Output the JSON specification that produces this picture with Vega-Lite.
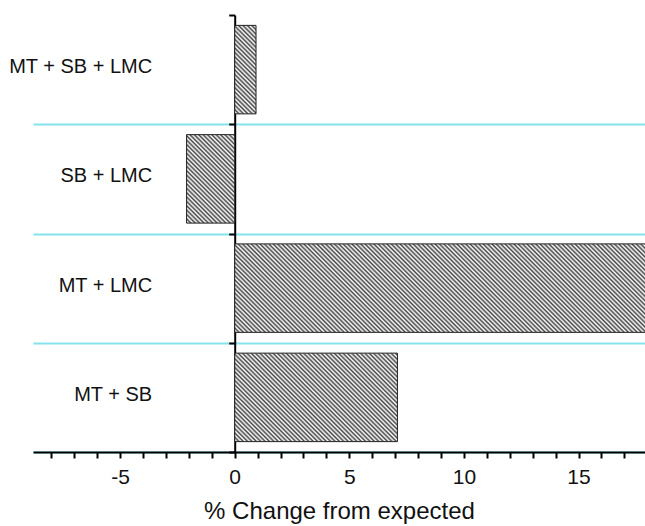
{
"$schema":"https://vega.github.io/schema/vega-lite/v6.json",
"width":612,"height":437,
"autosize":{"type":"none"},
"padding":{"left":33,"top":15,"right":0,"bottom":74},
"background":"white",
"config":{"view":{"stroke":null},"font":"Liberation Sans","axis":{"grid":false}},
"data":{"values":[
{"group":"MT + SB + LMC","change":0.93},
{"group":"SB + LMC","change":-2.1},
{"group":"MT + LMC","change":20},
{"group":"MT + SB","change":7.1}
]},
"mark":{"type":"bar","clip":true,"stroke":"#222222","strokeWidth":1,"height":{"band":0.81}},
"encoding":{
"y":{"field":"group","type":"nominal","sort":null,"scale":{"paddingInner":0,"paddingOuter":0},
"axis":{"title":null,"orient":"left","offset":{"expr":"-scale('x', 0)"},"domainColor":"#000000","domainWidth":2,"tickBand":"extent","tickColor":"#000000","tickWidth":2,"tickSize":6,"grid":true,"gridColor":"#84e4ec","gridWidth":2,"gridOpacity":{"condition":{"test":"indexof(['MT + SB + LMC','SB + LMC','MT + LMC','MT + SB'], datum.value) < 0","value":0},"value":1},"labelFontSize":20,"labelColor":"#111111","labelPadding":77,"labelOffset":-3}},
"x":{"field":"change","type":"quantitative","scale":{"domain":[-8.8,17.9],"nice":false,"zero":false},
"axis":{"title":"% Change from expected","values":[-8,-7,-6,-5,-4,-3,-2,-1,0,1,2,3,4,5,6,7,8,9,10,11,12,13,14,15,16,17],"labelExpr":"datum.value % 5 === 0 ? '' + datum.value : ''","domainColor":"#000000","domainWidth":2,"tickColor":"#000000","tickWidth":2,"tickSize":6,"labelFontSize":21,"labelColor":"#111111","labelPadding":8,"labelFlush":false,"labelOverlap":false,"titleFontSize":24,"titleFontWeight":"normal","titleColor":"#111111","titlePadding":12}},
"fill":{"condition":[
{"test":"datum.group === 'MT + SB + LMC'","value":{"gradient":"linear","x1":0,"y1":1,"x2":0.2826,"y2":-0.1728,"stops":[
{"offset":0,"color":"#444"},{"offset":0.02,"color":"#fff"},{"offset":0.04,"color":"#444"},{"offset":0.06,"color":"#fff"},{"offset":0.08,"color":"#444"},{"offset":0.1,"color":"#fff"},{"offset":0.12,"color":"#444"},{"offset":0.14,"color":"#fff"},{"offset":0.16,"color":"#444"},{"offset":0.18,"color":"#fff"},{"offset":0.2,"color":"#444"},{"offset":0.22,"color":"#fff"},{"offset":0.24,"color":"#444"},{"offset":0.26,"color":"#fff"},{"offset":0.28,"color":"#444"},{"offset":0.3,"color":"#fff"},{"offset":0.32,"color":"#444"},{"offset":0.34,"color":"#fff"},{"offset":0.36,"color":"#444"},{"offset":0.38,"color":"#fff"},{"offset":0.4,"color":"#444"},{"offset":0.42,"color":"#fff"},{"offset":0.44,"color":"#444"},{"offset":0.46,"color":"#fff"},{"offset":0.48,"color":"#444"},{"offset":0.5,"color":"#fff"},{"offset":0.52,"color":"#444"},{"offset":0.54,"color":"#fff"},{"offset":0.56,"color":"#444"},{"offset":0.58,"color":"#fff"},{"offset":0.6,"color":"#444"},{"offset":0.62,"color":"#fff"},{"offset":0.64,"color":"#444"},{"offset":0.66,"color":"#fff"},{"offset":0.68,"color":"#444"},{"offset":0.7,"color":"#fff"},{"offset":0.72,"color":"#444"},{"offset":0.74,"color":"#fff"},{"offset":0.76,"color":"#444"},{"offset":0.78,"color":"#fff"},{"offset":0.8,"color":"#444"},{"offset":0.82,"color":"#fff"},{"offset":0.84,"color":"#444"},{"offset":0.86,"color":"#fff"},{"offset":0.88,"color":"#444"},{"offset":0.9,"color":"#fff"},{"offset":0.92,"color":"#444"},{"offset":0.94,"color":"#fff"},{"offset":0.96,"color":"#444"},{"offset":0.98,"color":"#fff"},{"offset":1,"color":"#444"}]}},
{"test":"datum.group === 'SB + LMC'","value":{"gradient":"linear","x1":0,"y1":1,"x2":0.648,"y2":-0.1914,"stops":[
{"offset":0,"color":"#444"},{"offset":0.016,"color":"#fff"},{"offset":0.032,"color":"#444"},{"offset":0.048,"color":"#fff"},{"offset":0.064,"color":"#444"},{"offset":0.08,"color":"#fff"},{"offset":0.096,"color":"#444"},{"offset":0.112,"color":"#fff"},{"offset":0.128,"color":"#444"},{"offset":0.144,"color":"#fff"},{"offset":0.16,"color":"#444"},{"offset":0.176,"color":"#fff"},{"offset":0.192,"color":"#444"},{"offset":0.208,"color":"#fff"},{"offset":0.224,"color":"#444"},{"offset":0.24,"color":"#fff"},{"offset":0.256,"color":"#444"},{"offset":0.272,"color":"#fff"},{"offset":0.288,"color":"#444"},{"offset":0.304,"color":"#fff"},{"offset":0.32,"color":"#444"},{"offset":0.336,"color":"#fff"},{"offset":0.352,"color":"#444"},{"offset":0.368,"color":"#fff"},{"offset":0.384,"color":"#444"},{"offset":0.4,"color":"#fff"},{"offset":0.416,"color":"#444"},{"offset":0.432,"color":"#fff"},{"offset":0.448,"color":"#444"},{"offset":0.464,"color":"#fff"},{"offset":0.48,"color":"#444"},{"offset":0.496,"color":"#fff"},{"offset":0.512,"color":"#444"},{"offset":0.528,"color":"#fff"},{"offset":0.544,"color":"#444"},{"offset":0.56,"color":"#fff"},{"offset":0.576,"color":"#444"},{"offset":0.592,"color":"#fff"},{"offset":0.608,"color":"#444"},{"offset":0.624,"color":"#fff"},{"offset":0.64,"color":"#444"},{"offset":0.656,"color":"#fff"},{"offset":0.672,"color":"#444"},{"offset":0.688,"color":"#fff"},{"offset":0.704,"color":"#444"},{"offset":0.72,"color":"#fff"},{"offset":0.736,"color":"#444"},{"offset":0.752,"color":"#fff"},{"offset":0.768,"color":"#444"},{"offset":0.784,"color":"#fff"},{"offset":0.8,"color":"#444"},{"offset":0.816,"color":"#fff"},{"offset":0.832,"color":"#444"},{"offset":0.848,"color":"#fff"},{"offset":0.864,"color":"#444"},{"offset":0.88,"color":"#fff"},{"offset":0.896,"color":"#444"},{"offset":0.912,"color":"#fff"},{"offset":0.928,"color":"#444"},{"offset":0.944,"color":"#fff"},{"offset":0.96,"color":"#444"},{"offset":0.976,"color":"#fff"},{"offset":0.992,"color":"#444"},{"offset":1,"color":"#a1a1a1"}]}},
{"test":"datum.group === 'MT + LMC'","value":{"gradient":"linear","x1":0,"y1":1,"x2":1.1502,"y2":0.778,"stops":[
{"offset":0,"color":"#444"},{"offset":0.004,"color":"#fff"},{"offset":0.008,"color":"#444"},{"offset":0.012,"color":"#fff"},{"offset":0.016,"color":"#444"},{"offset":0.02,"color":"#fff"},{"offset":0.024,"color":"#444"},{"offset":0.028,"color":"#fff"},{"offset":0.032,"color":"#444"},{"offset":0.036,"color":"#fff"},
{"offset":0.04,"color":"#444"},{"offset":0.044,"color":"#fff"},{"offset":0.048,"color":"#444"},{"offset":0.052,"color":"#fff"},{"offset":0.056,"color":"#444"},{"offset":0.06,"color":"#fff"},{"offset":0.064,"color":"#444"},{"offset":0.068,"color":"#fff"},{"offset":0.072,"color":"#444"},{"offset":0.076,"color":"#fff"},
{"offset":0.08,"color":"#444"},{"offset":0.084,"color":"#fff"},{"offset":0.088,"color":"#444"},{"offset":0.092,"color":"#fff"},{"offset":0.096,"color":"#444"},{"offset":0.1,"color":"#fff"},{"offset":0.104,"color":"#444"},{"offset":0.108,"color":"#fff"},{"offset":0.112,"color":"#444"},{"offset":0.116,"color":"#fff"},
{"offset":0.12,"color":"#444"},{"offset":0.124,"color":"#fff"},{"offset":0.128,"color":"#444"},{"offset":0.132,"color":"#fff"},{"offset":0.136,"color":"#444"},{"offset":0.14,"color":"#fff"},{"offset":0.144,"color":"#444"},{"offset":0.148,"color":"#fff"},{"offset":0.152,"color":"#444"},{"offset":0.156,"color":"#fff"},
{"offset":0.16,"color":"#444"},{"offset":0.164,"color":"#fff"},{"offset":0.168,"color":"#444"},{"offset":0.172,"color":"#fff"},{"offset":0.176,"color":"#444"},{"offset":0.18,"color":"#fff"},{"offset":0.184,"color":"#444"},{"offset":0.188,"color":"#fff"},{"offset":0.192,"color":"#444"},{"offset":0.196,"color":"#fff"},
{"offset":0.2,"color":"#444"},{"offset":0.204,"color":"#fff"},{"offset":0.208,"color":"#444"},{"offset":0.212,"color":"#fff"},{"offset":0.216,"color":"#444"},{"offset":0.22,"color":"#fff"},{"offset":0.224,"color":"#444"},{"offset":0.228,"color":"#fff"},{"offset":0.232,"color":"#444"},{"offset":0.236,"color":"#fff"},
{"offset":0.24,"color":"#444"},{"offset":0.244,"color":"#fff"},{"offset":0.248,"color":"#444"},{"offset":0.252,"color":"#fff"},{"offset":0.256,"color":"#444"},{"offset":0.26,"color":"#fff"},{"offset":0.264,"color":"#444"},{"offset":0.268,"color":"#fff"},{"offset":0.272,"color":"#444"},{"offset":0.276,"color":"#fff"},
{"offset":0.28,"color":"#444"},{"offset":0.284,"color":"#fff"},{"offset":0.288,"color":"#444"},{"offset":0.292,"color":"#fff"},{"offset":0.296,"color":"#444"},{"offset":0.3,"color":"#fff"},{"offset":0.304,"color":"#444"},{"offset":0.308,"color":"#fff"},{"offset":0.312,"color":"#444"},{"offset":0.316,"color":"#fff"},
{"offset":0.32,"color":"#444"},{"offset":0.324,"color":"#fff"},{"offset":0.328,"color":"#444"},{"offset":0.332,"color":"#fff"},{"offset":0.336,"color":"#444"},{"offset":0.34,"color":"#fff"},{"offset":0.344,"color":"#444"},{"offset":0.348,"color":"#fff"},{"offset":0.352,"color":"#444"},{"offset":0.356,"color":"#fff"},
{"offset":0.36,"color":"#444"},{"offset":0.364,"color":"#fff"},{"offset":0.368,"color":"#444"},{"offset":0.372,"color":"#fff"},{"offset":0.376,"color":"#444"},{"offset":0.38,"color":"#fff"},{"offset":0.384,"color":"#444"},{"offset":0.388,"color":"#fff"},{"offset":0.392,"color":"#444"},{"offset":0.396,"color":"#fff"},
{"offset":0.4,"color":"#444"},{"offset":0.404,"color":"#fff"},{"offset":0.408,"color":"#444"},{"offset":0.412,"color":"#fff"},{"offset":0.416,"color":"#444"},{"offset":0.42,"color":"#fff"},{"offset":0.424,"color":"#444"},{"offset":0.428,"color":"#fff"},{"offset":0.432,"color":"#444"},{"offset":0.436,"color":"#fff"},
{"offset":0.44,"color":"#444"},{"offset":0.444,"color":"#fff"},{"offset":0.448,"color":"#444"},{"offset":0.452,"color":"#fff"},{"offset":0.456,"color":"#444"},{"offset":0.46,"color":"#fff"},{"offset":0.464,"color":"#444"},{"offset":0.468,"color":"#fff"},{"offset":0.472,"color":"#444"},{"offset":0.476,"color":"#fff"},
{"offset":0.48,"color":"#444"},{"offset":0.484,"color":"#fff"},{"offset":0.488,"color":"#444"},{"offset":0.492,"color":"#fff"},{"offset":0.496,"color":"#444"},{"offset":0.5,"color":"#fff"},{"offset":0.504,"color":"#444"},{"offset":0.508,"color":"#fff"},{"offset":0.512,"color":"#444"},{"offset":0.516,"color":"#fff"},
{"offset":0.52,"color":"#444"},{"offset":0.524,"color":"#fff"},{"offset":0.528,"color":"#444"},{"offset":0.532,"color":"#fff"},{"offset":0.536,"color":"#444"},{"offset":0.54,"color":"#fff"},{"offset":0.544,"color":"#444"},{"offset":0.548,"color":"#fff"},{"offset":0.552,"color":"#444"},{"offset":0.556,"color":"#fff"},
{"offset":0.56,"color":"#444"},{"offset":0.564,"color":"#fff"},{"offset":0.568,"color":"#444"},{"offset":0.572,"color":"#fff"},{"offset":0.576,"color":"#444"},{"offset":0.58,"color":"#fff"},{"offset":0.584,"color":"#444"},{"offset":0.588,"color":"#fff"},{"offset":0.592,"color":"#444"},{"offset":0.596,"color":"#fff"},
{"offset":0.6,"color":"#444"},{"offset":0.604,"color":"#fff"},{"offset":0.608,"color":"#444"},{"offset":0.612,"color":"#fff"},{"offset":0.616,"color":"#444"},{"offset":0.62,"color":"#fff"},{"offset":0.624,"color":"#444"},{"offset":0.628,"color":"#fff"},{"offset":0.632,"color":"#444"},{"offset":0.636,"color":"#fff"},
{"offset":0.64,"color":"#444"},{"offset":0.644,"color":"#fff"},{"offset":0.648,"color":"#444"},{"offset":0.652,"color":"#fff"},{"offset":0.656,"color":"#444"},{"offset":0.66,"color":"#fff"},{"offset":0.664,"color":"#444"},{"offset":0.668,"color":"#fff"},{"offset":0.672,"color":"#444"},{"offset":0.676,"color":"#fff"},
{"offset":0.68,"color":"#444"},{"offset":0.684,"color":"#fff"},{"offset":0.688,"color":"#444"},{"offset":0.692,"color":"#fff"},{"offset":0.696,"color":"#444"},{"offset":0.7,"color":"#fff"},{"offset":0.704,"color":"#444"},{"offset":0.708,"color":"#fff"},{"offset":0.712,"color":"#444"},{"offset":0.716,"color":"#fff"},
{"offset":0.72,"color":"#444"},{"offset":0.724,"color":"#fff"},{"offset":0.728,"color":"#444"},{"offset":0.732,"color":"#fff"},{"offset":0.736,"color":"#444"},{"offset":0.74,"color":"#fff"},{"offset":0.744,"color":"#444"},{"offset":0.748,"color":"#fff"},{"offset":0.752,"color":"#444"},{"offset":0.756,"color":"#fff"},
{"offset":0.76,"color":"#444"},{"offset":0.764,"color":"#fff"},{"offset":0.768,"color":"#444"},{"offset":0.772,"color":"#fff"},{"offset":0.776,"color":"#444"},{"offset":0.78,"color":"#fff"},{"offset":0.784,"color":"#444"},{"offset":0.788,"color":"#fff"},{"offset":0.792,"color":"#444"},{"offset":0.796,"color":"#fff"},
{"offset":0.8,"color":"#444"},{"offset":0.804,"color":"#fff"},{"offset":0.808,"color":"#444"},{"offset":0.812,"color":"#fff"},{"offset":0.816,"color":"#444"},{"offset":0.82,"color":"#fff"},{"offset":0.824,"color":"#444"},{"offset":0.828,"color":"#fff"},{"offset":0.832,"color":"#444"},{"offset":0.836,"color":"#fff"},
{"offset":0.84,"color":"#444"},{"offset":0.844,"color":"#fff"},{"offset":0.848,"color":"#444"},{"offset":0.852,"color":"#fff"},{"offset":0.856,"color":"#444"},{"offset":0.86,"color":"#fff"},{"offset":0.864,"color":"#444"},{"offset":0.868,"color":"#fff"},{"offset":0.872,"color":"#444"},{"offset":0.876,"color":"#fff"},
{"offset":0.88,"color":"#444"},{"offset":0.884,"color":"#fff"},{"offset":0.888,"color":"#444"},{"offset":0.892,"color":"#fff"},{"offset":0.896,"color":"#444"},{"offset":0.9,"color":"#fff"},{"offset":0.904,"color":"#444"},{"offset":0.908,"color":"#fff"},{"offset":0.912,"color":"#444"},{"offset":0.916,"color":"#fff"},
{"offset":0.92,"color":"#444"},{"offset":0.924,"color":"#fff"},{"offset":0.928,"color":"#444"},{"offset":0.932,"color":"#fff"},{"offset":0.936,"color":"#444"},{"offset":0.94,"color":"#fff"},{"offset":0.944,"color":"#444"},{"offset":0.948,"color":"#fff"},{"offset":0.952,"color":"#444"},{"offset":0.956,"color":"#fff"},
{"offset":0.96,"color":"#444"},{"offset":0.964,"color":"#fff"},{"offset":0.968,"color":"#444"},{"offset":0.972,"color":"#fff"},{"offset":0.976,"color":"#444"},{"offset":0.98,"color":"#fff"},{"offset":0.984,"color":"#444"},{"offset":0.988,"color":"#fff"},{"offset":0.992,"color":"#444"},{"offset":0.996,"color":"#fff"},
{"offset":1,"color":"#444"}]}},
{"test":"datum.group === 'MT + SB'","value":{"gradient":"linear","x1":0,"y1":1,"x2":1.1914,"y2":0.3522,"stops":[
{"offset":0,"color":"#444"},{"offset":0.0087,"color":"#fff"},{"offset":0.0174,"color":"#444"},{"offset":0.0261,"color":"#fff"},{"offset":0.0348,"color":"#444"},{"offset":0.0435,"color":"#fff"},{"offset":0.0522,"color":"#444"},{"offset":0.0609,"color":"#fff"},{"offset":0.0696,"color":"#444"},{"offset":0.0783,"color":"#fff"},
{"offset":0.087,"color":"#444"},{"offset":0.0957,"color":"#fff"},{"offset":0.1044,"color":"#444"},{"offset":0.1131,"color":"#fff"},{"offset":0.1218,"color":"#444"},{"offset":0.1305,"color":"#fff"},{"offset":0.1392,"color":"#444"},{"offset":0.1479,"color":"#fff"},{"offset":0.1566,"color":"#444"},{"offset":0.1653,"color":"#fff"},
{"offset":0.174,"color":"#444"},{"offset":0.1827,"color":"#fff"},{"offset":0.1914,"color":"#444"},{"offset":0.2001,"color":"#fff"},{"offset":0.2088,"color":"#444"},{"offset":0.2175,"color":"#fff"},{"offset":0.2262,"color":"#444"},{"offset":0.2349,"color":"#fff"},{"offset":0.2436,"color":"#444"},{"offset":0.2523,"color":"#fff"},
{"offset":0.261,"color":"#444"},{"offset":0.2697,"color":"#fff"},{"offset":0.2784,"color":"#444"},{"offset":0.2871,"color":"#fff"},{"offset":0.2958,"color":"#444"},{"offset":0.3045,"color":"#fff"},{"offset":0.3132,"color":"#444"},{"offset":0.3219,"color":"#fff"},{"offset":0.3306,"color":"#444"},{"offset":0.3393,"color":"#fff"},
{"offset":0.348,"color":"#444"},{"offset":0.3567,"color":"#fff"},{"offset":0.3654,"color":"#444"},{"offset":0.3741,"color":"#fff"},{"offset":0.3828,"color":"#444"},{"offset":0.3915,"color":"#fff"},{"offset":0.4002,"color":"#444"},{"offset":0.4089,"color":"#fff"},{"offset":0.4176,"color":"#444"},{"offset":0.4263,"color":"#fff"},
{"offset":0.435,"color":"#444"},{"offset":0.4437,"color":"#fff"},{"offset":0.4524,"color":"#444"},{"offset":0.4611,"color":"#fff"},{"offset":0.4698,"color":"#444"},{"offset":0.4785,"color":"#fff"},{"offset":0.4872,"color":"#444"},{"offset":0.4959,"color":"#fff"},{"offset":0.5046,"color":"#444"},{"offset":0.5133,"color":"#fff"},
{"offset":0.522,"color":"#444"},{"offset":0.5307,"color":"#fff"},{"offset":0.5394,"color":"#444"},{"offset":0.5481,"color":"#fff"},{"offset":0.5568,"color":"#444"},{"offset":0.5655,"color":"#fff"},{"offset":0.5742,"color":"#444"},{"offset":0.5829,"color":"#fff"},{"offset":0.5916,"color":"#444"},{"offset":0.6003,"color":"#fff"},
{"offset":0.609,"color":"#444"},{"offset":0.6177,"color":"#fff"},{"offset":0.6264,"color":"#444"},{"offset":0.6351,"color":"#fff"},{"offset":0.6438,"color":"#444"},{"offset":0.6525,"color":"#fff"},{"offset":0.6612,"color":"#444"},{"offset":0.6699,"color":"#fff"},{"offset":0.6786,"color":"#444"},{"offset":0.6873,"color":"#fff"},
{"offset":0.696,"color":"#444"},{"offset":0.7047,"color":"#fff"},{"offset":0.7134,"color":"#444"},{"offset":0.7221,"color":"#fff"},{"offset":0.7308,"color":"#444"},{"offset":0.7395,"color":"#fff"},{"offset":0.7482,"color":"#444"},{"offset":0.7569,"color":"#fff"},{"offset":0.7656,"color":"#444"},{"offset":0.7743,"color":"#fff"},
{"offset":0.783,"color":"#444"},{"offset":0.7917,"color":"#fff"},{"offset":0.8004,"color":"#444"},{"offset":0.8091,"color":"#fff"},{"offset":0.8178,"color":"#444"},{"offset":0.8265,"color":"#fff"},{"offset":0.8352,"color":"#444"},{"offset":0.8439,"color":"#fff"},{"offset":0.8526,"color":"#444"},{"offset":0.8613,"color":"#fff"},
{"offset":0.87,"color":"#444"},{"offset":0.8787,"color":"#fff"},{"offset":0.8874,"color":"#444"},{"offset":0.8961,"color":"#fff"},{"offset":0.9048,"color":"#444"},{"offset":0.9135,"color":"#fff"},{"offset":0.9222,"color":"#444"},{"offset":0.9309,"color":"#fff"},{"offset":0.9396,"color":"#444"},{"offset":0.9483,"color":"#fff"},
{"offset":0.957,"color":"#444"},{"offset":0.9657,"color":"#fff"},{"offset":0.9744,"color":"#444"},{"offset":0.9831,"color":"#fff"},{"offset":0.9918,"color":"#444"},{"offset":1,"color":"#fff"}]}}
],"value":"#a8a8a8"}
}
}
